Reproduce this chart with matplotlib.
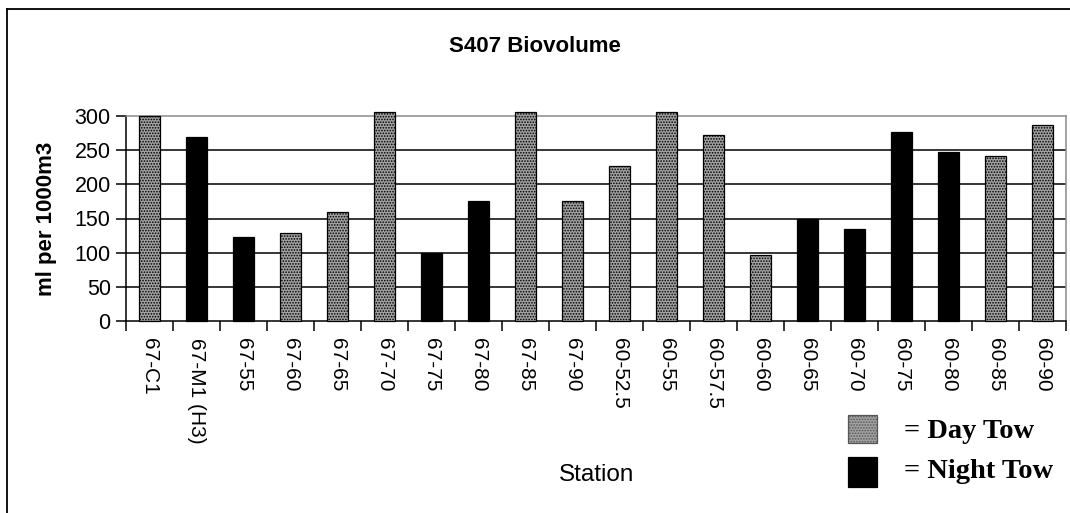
import matplotlib
matplotlib.use("Agg")
import matplotlib.pyplot as plt
from matplotlib.lines import Line2D
from matplotlib.patches import Rectangle
import numpy as np

stations = ["67-C1", "67-M1 (H3)", "67-55", "67-60", "67-65", "67-70", "67-75",
            "67-80", "67-85", "67-90", "60-52.5", "60-55", "60-57.5", "60-60",
            "60-65", "60-70", "60-75", "60-80", "60-85", "60-90"]
biovolume = [300, 270, 123, 129, 160, 306, 99, 175, 306, 175, 227, 306, 272,
             97, 150, 135, 276, 247, 241, 287]
tow = ["Day", "Night", "Night", "Day", "Day", "Day", "Night", "Night", "Day", "Day",
       "Day", "Day", "Day", "Day", "Night", "Night", "Night", "Night", "Day", "Day"]
yticks = [0, 50, 100, 150, 200, 250, 300]

plt.rcParams['font.family'] = ['Liberation Sans', 'DejaVu Sans']
plt.rcParams['hatch.color'] = '#2a2a2a'
plt.rcParams['hatch.linewidth'] = 0.8

W, H = 1070, 513
fig = plt.figure(figsize=(W / 100, H / 100), dpi=100)
fig.patch.set_facecolor('white')

ax = fig.add_axes([126 / W, 1 - 321 / H, (1066 - 126) / W, (321 - 116) / H])
x = np.arange(len(stations))
day_fc = '#a2a2a2'
for xi, v, t in zip(x, biovolume, tow):
    if t == "Day":
        ax.bar(xi, v, width=0.44, facecolor=day_fc, edgecolor='black',
               linewidth=0.9, hatch='......', clip_on=False, zorder=3)
    else:
        ax.bar(xi, v, width=0.44, facecolor='black', edgecolor='black',
               linewidth=0.9, clip_on=False, zorder=3)

ax.set_xlim(-0.5, len(stations) - 0.5)
ax.set_ylim(0, 300)
ax.set_yticks(yticks)
ax.set_yticklabels([str(v) for v in yticks], fontsize=15.5)
for v in yticks[1:-1]:
    ax.axhline(v, color='black', linewidth=1.1, zorder=1)

ax.spines['top'].set_color('#8a8a8a')
ax.spines['right'].set_color('#8a8a8a')
ax.spines['left'].set_color('black')
ax.spines['bottom'].set_color('black')
for s in ax.spines.values():
    s.set_linewidth(1.1)

ax.set_xticks(x)
ax.set_xticklabels(stations, rotation=-90, fontsize=15, va='top', ha='center')
ax.set_xticks(np.arange(-0.5, len(stations), 1.0), minor=True)
ax.tick_params(axis='x', which='major', length=0, pad=12)
ax.tick_params(axis='x', which='minor', length=7, width=1.1, direction='out')
ax.tick_params(axis='y', which='major', length=7, width=1.1, direction='out', pad=4)

fig.text(535 / W, 1 - 47 / H, "S407 Biovolume", ha='center', va='center',
         fontsize=16, fontweight='bold')
fig.text(47 / W, 1 - 219 / H, "ml per 1000m3", ha='center', va='center',
         rotation=90, fontsize=16, fontweight='bold')
fig.text(597 / W, 1 - 475 / H, "Station", ha='center', va='center', fontsize=17.5)

# legend
fig.add_artist(Rectangle((848 / W, 1 - 443 / H), 29 / W, 28 / H,
                         transform=fig.transFigure, facecolor=day_fc,
                         edgecolor='#555555', linewidth=0.9, hatch='......'))
fig.add_artist(Rectangle((848 / W, 1 - 487 / H), 29 / W, 30 / H,
                         transform=fig.transFigure, facecolor='black',
                         edgecolor='black', linewidth=0.9))
fig.text(904 / W, 1 - 432 / H, "= Day Tow", ha='left', va='center',
         fontsize=20.5, fontweight='bold', family=['Liberation Serif', 'DejaVu Serif'])
fig.text(904 / W, 1 - 472 / H, "= Night Tow", ha='left', va='center',
         fontsize=20.5, fontweight='bold', family=['Liberation Serif', 'DejaVu Serif'])

# outer border (left and top visible)
fig.add_artist(Line2D([7 / W, 7 / W], [0, 1 - 9 / H], transform=fig.transFigure,
                      color='black', linewidth=1.3))
fig.add_artist(Line2D([7 / W, 1], [1 - 9 / H, 1 - 9 / H], transform=fig.transFigure,
                      color='black', linewidth=1.3))

fig.savefig("out.png", dpi=100)
